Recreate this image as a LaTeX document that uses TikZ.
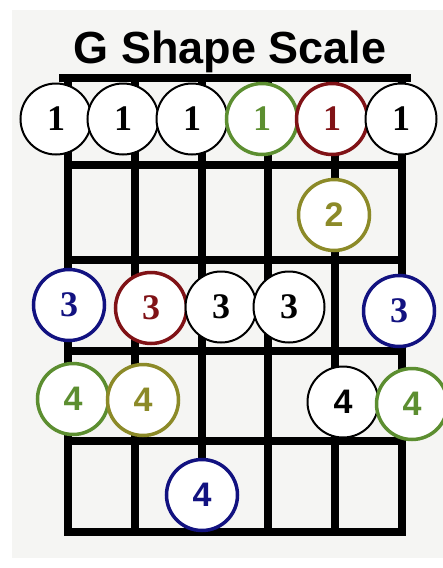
\documentclass[tikz,border=0pt]{standalone}
\usepackage{fontspec}
\setmainfont{Liberation Serif}
\setsansfont{Liberation Sans}
\definecolor{cgreen}{RGB}{92,142,48}
\definecolor{cred}{RGB}{128,18,22}
\definecolor{colive}{RGB}{140,138,40}
\definecolor{cblue}{RGB}{18,18,128}
\definecolor{bgc}{RGB}{245,245,243}
\tikzset{
  fret/.style={line width=7.5pt, line cap=rect},
  dot/.style={circle, fill=white, draw=black, line width=2pt, minimum size=71pt, inner sep=0pt},
  cdot/.style={dot, draw=#1, text=#1, line width=3.5pt},
  ser/.style={font=\fontsize{36}{36}\selectfont\bfseries},
  san/.style={font=\fontsize{34}{34}\selectfont\sffamily\bfseries},
}
\begin{document}
\begin{tikzpicture}[x=1pt,y=-1pt]
\fill[white] (0,0) rectangle (443,568);
\fill[bgc] (12,10) rectangle (443,558);
\useasboundingbox (0,0) rectangle (443,568);
\node[anchor=base, font=\fontsize{45}{45}\selectfont\sffamily\bfseries] (title) at (230,63) {G Shape Scale};
% grid
\draw[fret, line width=8.5pt] (63,78) -- (407,78);
\foreach \y in {165,260,351,441,532} \draw[fret] (68,\y) -- (402,\y);
\foreach \x in {68,135,202,268,335,402} \draw[fret] (\x,78) -- (\x,532);
% row 1
\node[dot,ser] (a1) at (56,119) {1};
\node[dot,ser] (a2) at (123,119) {1};
\node[dot,ser] (a3) at (192,119) {1};
\node[cdot=cgreen,ser] (a4) at (262,119) {1};
\node[cdot=cred,ser] (a5) at (332,119) {1};
\node[dot,ser] (a6) at (401,119) {1};
% row 2
\node[cdot=colive,san] (b1) at (334,215) {2};
% row 3
\node[cdot=cblue,ser] (c1) at (69,305) {3};
\node[cdot=cred,ser] (c2) at (151,308) {3};
\node[dot,ser] (c3) at (221,307) {3};
\node[dot,ser] (c4) at (289,307) {3};
\node[cdot=cblue,ser] (c5) at (399,311) {3};
% row 4
\node[cdot=cgreen,san] (d1) at (73,399) {4};
\node[cdot=colive,san] (d2) at (143,400) {4};
\node[dot,san] (d3) at (343,402) {4};
\node[cdot=cgreen,san] (d4) at (412,404) {4};
% row 5
\node[cdot=cblue,san] (e1) at (202,495) {4};
\end{tikzpicture}
\end{document}
